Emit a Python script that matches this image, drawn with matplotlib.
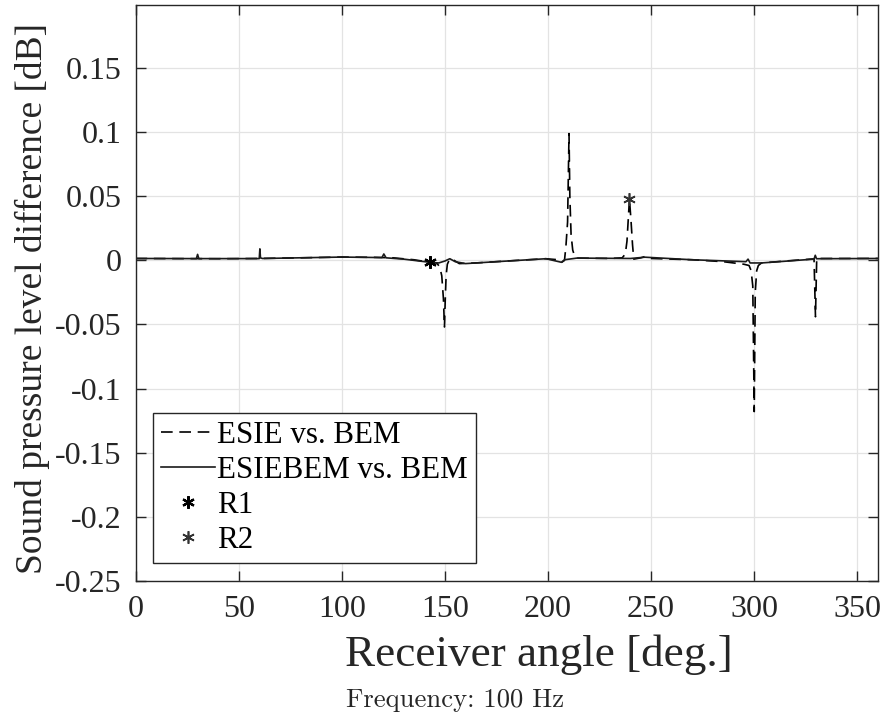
import matplotlib.pyplot as plt

plt.rcParams["font.family"] = ["Liberation Serif", "DejaVu Serif"]

# ESIE vs. BEM (dashed)
ang_esie = [0, 20, 40, 60, 80, 100, 115, 125, 135, 142.8, 146, 147.5, 148.5,
            149.3, 149.8, 150.2, 150.6, 151.2, 152.4, 154, 157, 165, 175, 185,
            199, 205, 206.6, 208, 208.7, 209.5, 210.2, 210.6, 211.2, 212, 213,
            214, 230, 236, 237.5, 238.3, 239.5, 240.3, 241, 241.6, 245, 247,
            250, 270, 285, 295, 297.5, 298.5, 299.3, 300, 300.5, 301.2, 302,
            303.5, 315, 329, 329.7, 330.3, 340, 360]
val_esie = [0.0015, 0.0014, 0.0013, 0.0015, 0.0020, 0.0026, 0.0024, 0.0020,
            0.0005, -0.0015, -0.002, -0.005, -0.012, -0.03, -0.052, -0.03,
            -0.012, -0.003, 0.0013, 0.0005, -0.0025, -0.002, -0.001, 0.0,
            0.0013, 0.0005, -0.0015, 0.0, 0.011, 0.03, 0.099, 0.05, 0.02,
            0.008, 0.003, 0.0018, 0.0015, 0.002, 0.005, 0.015, 0.048, 0.03,
            0.012, 0.001, 0.002, 0.003, 0.0015, 0.0005, -0.001, -0.003,
            -0.004, -0.008, -0.02, -0.118, -0.025, -0.008, -0.004, -0.002,
            -0.0005, 0.0012, -0.044, 0.0015, 0.0015, 0.0015]

# ESIEBEM vs. BEM (solid)
ang_hyb = [0, 29.5, 30.1, 30.7, 60, 60.3, 60.6, 61.5, 100, 119.5, 120.4, 121.5,
           130, 142.8, 147, 150, 152.4, 155, 160, 175, 199, 206.6, 208, 214,
           240, 247, 270, 296, 297, 298, 303.5, 329, 329.6, 330.2, 360]
val_hyb = [0.0015, 0.0014, 0.0047, 0.0014, 0.0014, 0.009, 0.002, 0.0015,
           0.0026, 0.0022, 0.005, 0.002, 0.001, -0.0015, -0.002, -0.0005,
           0.0013, -0.001, -0.0025, -0.001, 0.0013, -0.0015, 0.0005, 0.0018,
           0.0015, 0.0025, 0.0005, -0.001, 0.001, -0.002, -0.002, 0.001,
           0.004, 0.0013, 0.0015]

r1_ang, r1_val = [142.8], [-0.0015]
r2_ang, r2_val = [239.5], [0.048]

yticks = [-0.25, -0.2, -0.15, -0.1, -0.05, 0, 0.05, 0.1, 0.15]
ytick_labels = ["-0.25", "-0.2", "-0.15", "-0.1", "-0.05", "0", "0.05", "0.1", "0.15"]
xticks = [0, 50, 100, 150, 200, 250, 300, 350]

fig = plt.figure(figsize=(8.88, 7.19), dpi=100)
ax = fig.add_axes([0.1526, 0.1924, 0.8361, 0.8000])

ax.plot(ang_esie, val_esie, color="black", lw=1.2, dashes=(7, 4),
        label="ESIE vs. BEM")
ax.plot(ang_hyb, val_hyb, color="#1a1a1a", lw=1.2, label="ESIEBEM vs. BEM")
ax.plot(r1_ang, r1_val, ls="none", marker=(6, 2, 0), ms=9, mew=1.6,
        color="black", label="R1")
ax.plot(r2_ang, r2_val, ls="none", marker=(6, 2, 0), ms=9, mew=1.2,
        color="#333333", label="R2")

ax.set_xlim(0, 360)
ax.set_ylim(-0.25, 0.199)
ax.set_xticks(xticks)
ax.set_yticks(yticks)
ax.set_yticklabels(ytick_labels)
ax.grid(color="#e3e3e3", lw=0.9)
ax.set_axisbelow(True)
ax.tick_params(direction="in", length=7, width=1, top=True, right=True,
               labelsize=23, colors="#262626", pad=10)
for s in ax.spines.values():
    s.set_color("#262626")
    s.set_linewidth(1)

ax.set_xlabel("Receiver angle [deg.]", fontsize=32.5, color="#262626")
ax.set_ylabel("Sound pressure level difference [dB]", fontsize=27, color="#262626")
ax.xaxis.set_label_coords(0.543, -0.093)
ax.yaxis.set_label_coords(-0.115, 0.49)

leg = ax.legend(loc="upper left", bbox_to_anchor=(0.0236, 0.2915),
                borderaxespad=0, fontsize=22.3, handlelength=1.75,
                handletextpad=0.08, labelspacing=0.2, borderpad=0.25,
                fancybox=False, framealpha=1)
leg.get_frame().set_edgecolor("#262626")
leg.get_frame().set_linewidth(1)

fig.text(0.513, 0.026, "Frequency: 100 Hz", fontsize=19.2, family="cmr10",
         ha="center", va="center", color="#262626")

fig.savefig("out.png", dpi=100)
